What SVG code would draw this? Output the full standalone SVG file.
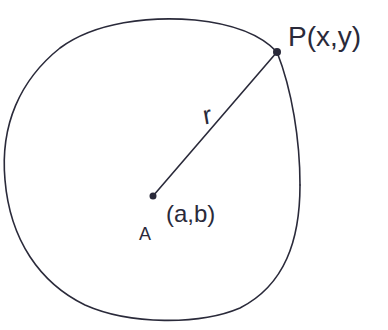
<svg xmlns="http://www.w3.org/2000/svg" width="388" height="330" viewBox="0 0 388 330">
<style>
.ln{fill:none;stroke:#2a2a3a;stroke-width:1.6;stroke-linecap:round;stroke-linejoin:round}
.t{font-family:"Liberation Sans",Arial,sans-serif;fill:#2a2a3a}
</style>
<rect width="388" height="330" fill="#ffffff"/>
<g id="circle">
<path class="ln" d="M300,185 C300,240 285,285 240,308 C200,325 130,325 85,305 C40,283 10,240 5,180 C0,125 20,80 60,48 C95,22 150,16 195,20 C235,24 262,36 277,52"/>
<path class="ln" d="M277,52 C292,90 300,140 300,185" stroke-width="2.6"/>
</g>
<g id="connectors">
<line class="ln" x1="153" y1="196" x2="277" y2="52"/>
</g>
<g id="P">
<circle cx="277" cy="52" r="4" fill="#2a2a3a"/>
<text class="t" x="288" y="46" font-size="28">P(x,y)</text>
</g>
<g id="A">
<circle cx="153" cy="196" r="3.5" fill="#2a2a3a"/>
<text class="t" x="139" y="240" font-size="18">A</text>
<text class="t" x="166" y="222" font-size="24">(a,b)</text>
</g>
<g id="r">
<text class="t" x="203" y="123" font-size="26" transform="rotate(-10 212 115)">r</text>
</g>
</svg>
